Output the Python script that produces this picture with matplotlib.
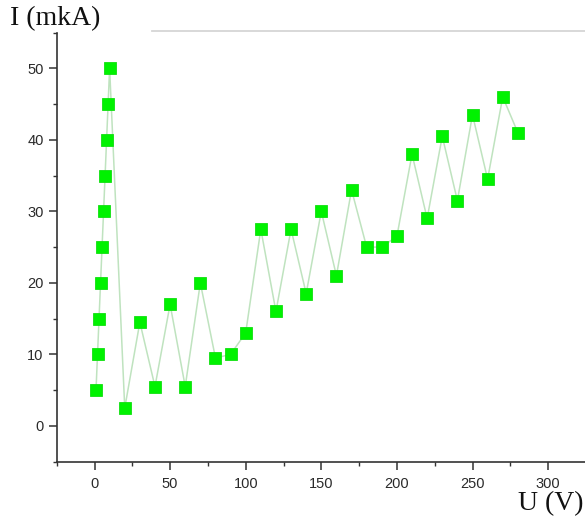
import matplotlib
matplotlib.use("Agg")
import matplotlib.pyplot as plt
from matplotlib.lines import Line2D
from matplotlib.ticker import MultipleLocator

# Data
U_volts = [1, 2, 3, 4, 5, 6, 7, 8, 9, 10,
           20, 30, 40, 50, 60, 70, 80, 90, 100,
           110, 120, 130, 140, 150, 160, 170, 180, 190, 200,
           210, 220, 230, 240, 250, 260, 270, 280]
I_mkA = [5, 10, 15, 20, 25, 30, 35, 40, 45, 50,
         2.5, 14.5, 5.5, 17, 5.5, 20, 9.5, 10, 13,
         27.5, 16, 27.5, 18.5, 30, 21, 33, 25, 25, 26.5,
         38, 29, 40.5, 31.5, 43.5, 34.5, 46, 41]

x_ticks = [0, 50, 100, 150, 200, 250, 300]
y_ticks = [0, 10, 20, 30, 40, 50]

W, H = 585, 519
fig = plt.figure(figsize=(W / 100, H / 100), dpi=100)
fig.patch.set_facecolor("white")

left = 56.7 / W
bottom = (H - 461.7) / H
top = (H - 32.5) / H
width = 355 * 1.512 / W
ax = fig.add_axes([left, bottom, width, top - bottom])

ax.plot(U_volts, I_mkA, color="#bfe3bf", lw=1.1, zorder=2)
ax.plot(U_volts, I_mkA, ls="none", marker="s", ms=8.3,
        mfc="#00f200", mec="#10e010", mew=0.6, zorder=3)

ax.set_xlim(-25, 330)
ax.set_ylim(-5, 55)
ax.set_xticks(x_ticks)
ax.set_yticks(y_ticks)
ax.xaxis.set_minor_locator(MultipleLocator(25))
ax.yaxis.set_minor_locator(MultipleLocator(5))

for s in ["top", "right"]:
    ax.spines[s].set_visible(False)
for s in ["left", "bottom"]:
    ax.spines[s].set_color("#333333")
    ax.spines[s].set_linewidth(1.2)

tick_font = "Liberation Sans"
ax.tick_params(axis="both", which="major", direction="out", length=6,
               width=1.1, color="#333333", labelsize=10.5,
               labelcolor="#2a2a2a")
ax.tick_params(axis="both", which="minor", direction="out", length=3,
               width=1.0, color="#333333")
ax.tick_params(axis="x", which="major", pad=5)
ax.tick_params(axis="y", which="major", pad=3.5)
for lab in ax.get_xticklabels() + ax.get_yticklabels():
    lab.set_family(tick_font)

# light gray line at top of the frame
fig.add_artist(Line2D([152 / W, 1.0], [1 - 31 / H, 1 - 31 / H],
                      transform=fig.transFigure, color="#d6d6d6", lw=1.3))

fig.text(10 / W, 1 - 25 / H, "I (mkA)", family="Liberation Serif",
         fontsize=20, ha="left", va="baseline", color="#111111")
fig.text(584 / W, 1 - 510 / H, "U (V)", family="Liberation Serif",
         fontsize=20, ha="right", va="baseline", color="#111111")

fig.savefig("out.png", dpi=100, facecolor="white")
